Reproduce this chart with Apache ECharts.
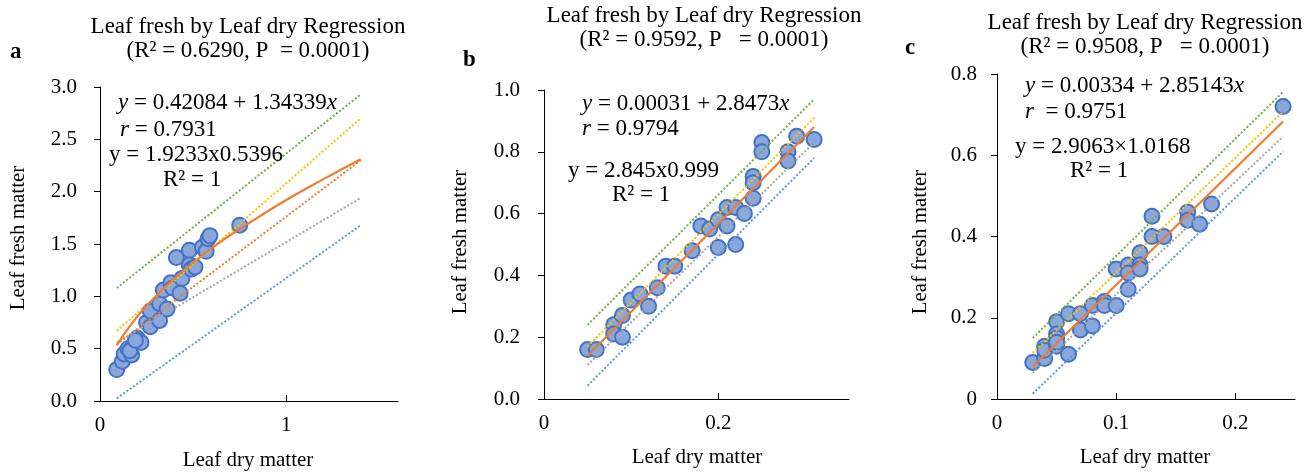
<!DOCTYPE html>
<html>
<head>
<meta charset="utf-8">
<script src="https://cdn.jsdelivr.net/npm/echarts@6/dist/echarts.min.js"></script>
<style>
  html, body { margin: 0; padding: 0; background: #fff; }
  #main { width: 1313px; height: 472px; }
</style>
</head>
<body>
<div id="main"></div>
<script>
// panel a - leaf dry vs leaf fresh
var dryA   = [0.09, 0.12, 0.13, 0.15, 0.17, 0.16, 0.20, 0.21, 0.22, 0.19, 0.25, 0.27, 0.27, 0.32, 0.32, 0.36,
              0.34, 0.38, 0.39, 0.44, 0.43, 0.41, 0.48, 0.48, 0.49, 0.51, 0.55, 0.57, 0.58, 0.59, 0.75];
var freshA = [0.30, 0.38, 0.45, 0.50, 0.44, 0.48, 0.60, 0.57, 0.56, 0.58, 0.75, 0.71, 0.86, 0.77, 0.93, 0.88,
              1.06, 1.13, 1.08, 1.17, 1.03, 1.37, 1.44, 1.30, 1.26, 1.28, 1.47, 1.43, 1.55, 1.58, 1.68];
// fitted power curve
var curveXA = [0.09, 0.15, 0.25, 0.4, 0.6, 0.8, 1.0, 1.2, 1.4];
var curveYA = [0.53, 0.69, 0.91, 1.17, 1.46, 1.70, 1.92, 2.12, 2.31];
// dotted trend lines (start / end)
var endsXA   = [0.09, 1.4];
var greenA   = [1.08, 2.93];
var yellowA  = [0.67, 2.70];
var orangeA  = [0.54, 2.30];
var grayA    = [0.56, 1.94];
var blueA    = [0.025, 1.68];

// panel b
var dryB   = [0.05, 0.06, 0.08, 0.08, 0.09, 0.09, 0.10, 0.11, 0.12, 0.13, 0.14, 0.15, 0.17, 0.18, 0.19, 0.20,
              0.20, 0.21, 0.21, 0.22, 0.22, 0.23, 0.24, 0.24, 0.24, 0.25, 0.25, 0.28, 0.28, 0.29, 0.31];
var freshB = [0.16, 0.16, 0.24, 0.21, 0.27, 0.20, 0.32, 0.34, 0.30, 0.36, 0.43, 0.43, 0.48, 0.56, 0.55, 0.58,
              0.49, 0.62, 0.56, 0.62, 0.50, 0.60, 0.72, 0.70, 0.65, 0.83, 0.80, 0.80, 0.77, 0.85, 0.84];
var endsXB   = [0.05, 0.31];
var greenB   = [0.24, 0.97];
var yellowB  = [0.17, 0.91];
var orangeB  = [0.14, 0.88];
var grayB    = [0.11, 0.83];
var blueB    = [0.043, 0.78];

// panel c
var dryC   = [0.03, 0.04, 0.04, 0.04, 0.05, 0.05, 0.05, 0.05, 0.05, 0.06, 0.06, 0.07, 0.07, 0.08, 0.08, 0.09, 0.09,
              0.10, 0.10, 0.11, 0.11, 0.11, 0.12, 0.12, 0.12, 0.13, 0.13, 0.14, 0.16, 0.16, 0.17, 0.18, 0.24];
var freshC = [0.09, 0.10, 0.13, 0.12, 0.19, 0.16, 0.15, 0.13, 0.14, 0.11, 0.21, 0.21, 0.17, 0.23, 0.18, 0.24, 0.23,
              0.23, 0.32, 0.33, 0.31, 0.27, 0.36, 0.33, 0.32, 0.45, 0.40, 0.40, 0.46, 0.44, 0.43, 0.48, 0.72];
var endsXC   = [0.03, 0.24];
var greenC   = [0.15, 0.756];
var yellowC  = [0.113, 0.707];
var orangeC  = [0.08, 0.683];
var grayC    = [0.064, 0.646];
var blueC    = [0.013, 0.609];

var xTicksA = [0, 1];
var xTicksB = [0, 0.2];
var xTicksC = [0, 0.1, 0.2];

var FONT = '"Liberation Serif", "Times New Roman", serif';
var colors = { green: '#70ad47', yellow: '#ffc000', orange: '#ed7d31', gray: '#a5a5a5', blue: '#5b9bd5' };

function pairs(xs, ys) {
    return xs.map(function (x, i) { return [x, ys[i]]; });
}

function scatter(idx, xs, ys) {
    return {
        type: 'scatter', xAxisIndex: idx, yAxisIndex: idx, z: 2,
        data: pairs(xs, ys), symbol: 'circle', symbolSize: 15,
        itemStyle: { color: '#8aa7dc', borderColor: '#4472c4', borderWidth: 2, opacity: 1 }
    };
}

function line(idx, xs, ys, color, dotted, smooth) {
    return {
        type: 'line', xAxisIndex: idx, yAxisIndex: idx, z: dotted ? 3 : 4,
        data: pairs(xs, ys), symbol: 'none', smooth: !!smooth, silent: true,
        lineStyle: { color: color, width: dotted ? 2 : 2.2, type: dotted ? 'dotted' : 'solid' }
    };
}

function xAxis(idx, max, ticks) {
    return {
        type: 'value', gridIndex: idx, min: 0, max: max,
        axisLine: { show: true, lineStyle: { color: '#000', width: 1 } },
        axisTick: { show: true, inside: true, length: 6, customValues: ticks, lineStyle: { color: '#000' } },
        axisLabel: { customValues: ticks, margin: 14, color: '#000', fontFamily: FONT, fontSize: 21 },
        splitLine: { show: false }
    };
}

function yAxis(idx, max, fmt, margin) {
    return {
        type: 'value', gridIndex: idx, min: 0, max: max, interval: idx === 0 ? 0.5 : 0.2,
        axisLine: { show: true, lineStyle: { color: '#000', width: 1 } },
        axisTick: { show: true, inside: false, length: 6, lineStyle: { color: '#000' } },
        axisLabel: { formatter: fmt, margin: margin, color: '#000', fontFamily: FONT, fontSize: 21 },
        splitLine: { show: false }
    };
}

function txt(x, y, s, opts) {
    opts = opts || {};
    var size = opts.size || 21;
    return {
        type: 'text', x: x, y: y, rotation: opts.rotation || 0, z: 10,
        style: {
            text: s, fill: '#000', fontFamily: FONT, fontSize: size,
            fontWeight: opts.bold ? 'bold' : 'normal',
            align: opts.align || 'left', verticalAlign: 'middle', lineHeight: opts.lh || 24,
            rich: {
                i: { fontStyle: 'italic', fontFamily: FONT, fontSize: size, fill: '#000' },
                n: { fontFamily: FONT, fontSize: size, fill: '#000' }
            }
        }
    };
}

var chart = echarts.init(document.getElementById('main'));

chart.setOption({
    animation: false,
    backgroundColor: '#fff',
    grid: [
        { left: 100, top: 87, width: 298, height: 314 },
        { left: 544, top: 90, width: 305, height: 309 },
        { left: 997, top: 74, width: 298, height: 325 }
    ],
    xAxis: [xAxis(0, 1.6, xTicksA), xAxis(1, 0.35, xTicksB), xAxis(2, 0.25, xTicksC)],
    yAxis: [
        yAxis(0, 3, function (v) { return v.toFixed(1); }, 23),
        yAxis(1, 1, function (v) { return v.toFixed(1); }, 24),
        yAxis(2, 0.8, function (v) { return v === 0 ? '0' : v.toFixed(1); }, 20)
    ],
    series: [
        scatter(0, dryA, freshA),
        line(0, endsXA, greenA, colors.green, true),
        line(0, endsXA, yellowA, colors.yellow, true),
        line(0, endsXA, orangeA, colors.orange, true),
        line(0, endsXA, grayA, colors.gray, true),
        line(0, endsXA, blueA, colors.blue, true),
        line(0, curveXA, curveYA, colors.orange, false, true),

        scatter(1, dryB, freshB),
        line(1, endsXB, greenB, colors.green, true),
        line(1, endsXB, yellowB, colors.yellow, true),
        line(1, endsXB, grayB, colors.gray, true),
        line(1, endsXB, blueB, colors.blue, true),
        line(1, endsXB, orangeB, colors.orange, false),

        scatter(2, dryC, freshC),
        line(2, endsXC, greenC, colors.green, true),
        line(2, endsXC, yellowC, colors.yellow, true),
        line(2, endsXC, grayC, colors.gray, true),
        line(2, endsXC, blueC, colors.blue, true),
        line(2, endsXC, orangeC, colors.orange, false)
    ],
    graphic: [
        // panel a
        txt(248, 39, 'Leaf fresh by Leaf dry Regression\n(R² = 0.6290, P  = 0.0001)', { align: 'center', size: 23 }),
        txt(10, 52, 'a', { bold: true, size: 23 }),
        txt(118, 103, '{i|y}{n| = 0.42084 + 1.34339}{i|x}', { size: 23 }),
        txt(120, 130, '{i|r}{n| = 0.7931}', { size: 23 }),
        txt(109, 155, 'y = 1.9233x0.5396', { size: 23 }),
        txt(163, 180, 'R² = 1', { size: 23 }),
        txt(18, 238, 'Leaf fresh matter', { align: 'center', rotation: Math.PI / 2 }),
        txt(248, 460, 'Leaf dry matter', { align: 'center' }),

        // panel b
        txt(704, 28, 'Leaf fresh by Leaf dry Regression\n(R² = 0.9592, P   = 0.0001)', { align: 'center', size: 23 }),
        txt(463, 60, 'b', { bold: true, size: 23 }),
        txt(582, 104, '{i|y}{n| = 0.00031 + 2.8473}{i|x}', { size: 23 }),
        txt(582, 129, '{i|r}{n| = 0.9794}', { size: 23 }),
        txt(568, 171, 'y = 2.845x0.999', { size: 23 }),
        txt(612, 195, 'R² = 1', { size: 23 }),
        txt(460, 242, 'Leaf fresh matter', { align: 'center', rotation: Math.PI / 2 }),
        txt(697, 457, 'Leaf dry matter', { align: 'center' }),

        // panel c
        txt(1145, 35, 'Leaf fresh by Leaf dry Regression\n(R² = 0.9508, P   = 0.0001)', { align: 'center', size: 23 }),
        txt(905, 48, 'c', { bold: true, size: 23 }),
        txt(1025, 86, '{i|y}{n| = 0.00334 + 2.85143}{i|x}', { size: 23 }),
        txt(1025, 112, '{i|r}{n|  = 0.9751}', { size: 23 }),
        txt(1015, 147, 'y = 2.9063×1.0168', { size: 23 }),
        txt(1070, 171, 'R² = 1', { size: 23 }),
        txt(920, 242, 'Leaf fresh matter', { align: 'center', rotation: Math.PI / 2 }),
        txt(1145, 457, 'Leaf dry matter', { align: 'center' })
    ]
});
</script>
</body>
</html>
